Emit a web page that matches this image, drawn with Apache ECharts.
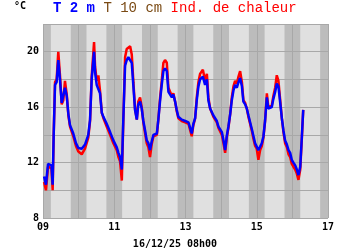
<!DOCTYPE html>
<html><head><meta charset="utf-8">
<script src="https://cdn.jsdelivr.net/npm/echarts@6/dist/echarts.min.js"></script>
<style>html,body{margin:0;padding:0;background:#fff}#c{width:350px;height:250px}</style>
</head><body><div id="c"></div>
<script>
// hours since 09/12 00h00
var hours = [0.7,2,3.4,4.7,5.7,6.5,7.2,8.1,9.2,10.3,
 11.5,12.6,13.7,14.8,16,17.1,18.2,19.3,20.4,22.2,
 23.8,26.1,28.3,30.5,31.7,32.8,33.9,34.4,35.1,36.2,
 37.3,38.4,39.6,40.7,42.9,45.2,47.4,49.7,50.8,51.9,
 53.1,54.1,55.3,56.4,57.5,58.7,59.8,60.9,62,63.2,
 64.2,65.4,66.5,67.6,68.8,69.9,71,72.1,73.2,74.4,
 76.7,77.7,78.9,80,81.1,82.2,83.4,84.5,85.6,86.8,
 87.8,89,90.1,91.2,93.5,95.8,98,99.1,100.2,101.3,
 102.5,103.6,104.7,105.8,107.7,109.2,110.4,111.4,112.6,114.8,
 117.1,118.2,120.5,121.6,122.7,123.8,124.9,126.1,127.2,128.3,
 129.4,130.6,131.7,132.8,134,135,136.2,137.3,138.4,139.6,
 140.7,141.8,142.9,144,145.1,146.3,147.4,148.5,149.6,150.8,
 151.8,153,154.1,155.2,156.4,157.5,158.6,159.8,160.9,162,
 163.1,164.3,165.4,166.5,167.6,168.7,169.9,171,172.1,173.3,
 174.4,175.3];
var t2m = [11.0,10.4,11.9,11.9,11.8,10.4,14.0,17.6,17.8,19.4,
 17.9,16.3,16.4,17.4,16.8,15.5,14.7,14.6,14.1,13.4,
 13.05,13.0,13.3,14.0,15.1,18.0,19.4,20.0,18.5,17.6,
 17.6,17.0,15.6,15.3,14.8,14.2,13.6,13.1,12.7,12.4,
 11.5,15.1,19.0,19.4,19.6,19.6,19.2,17.5,15.8,15.1,
 16.2,16.4,15.9,15.0,14.3,13.6,13.4,12.9,13.5,14.0,
 14.1,15.1,16.5,17.6,18.6,18.8,18.6,17.1,17.2,16.7,
 16.9,16.4,15.8,15.3,15.1,15.0,14.9,15.0,14.1,14.8,
 15.2,16.5,17.5,18.0,18.2,17.6,18.0,16.5,15.9,15.4,
 15.0,14.6,14.2,13.6,12.9,13.9,14.6,15.5,16.5,17.2,
 17.6,17.4,17.8,18.1,17.5,16.4,16.2,15.9,15.4,15.3,
 14.4,13.9,13.4,13.3,12.9,13.15,13.4,13.9,15.0,16.7,
 15.9,15.8,16.0,16.6,17.1,17.7,17.5,16.3,15.2,14.3,
 13.6,13.3,12.9,12.7,12.2,12.0,11.8,11.5,11.1,11.7,
 13.9,15.8];
var heatIndex = [10.6,10.0,11.7,11.8,11.6,10.0,14.0,17.8,18.0,20.0,
 18.2,16.2,16.5,17.9,16.9,15.4,14.6,14.5,13.9,13.2,
 12.8,12.6,13.0,13.8,15.0,18.2,19.9,20.7,18.9,17.9,
 18.3,17.2,15.6,15.2,14.6,14.0,13.4,12.9,12.4,12.1,
 10.7,15.0,19.6,20.2,20.3,20.4,19.8,17.8,15.9,15.1,
 16.4,16.7,16.0,14.9,14.1,13.4,13.1,12.4,13.3,13.9,
 14.0,15.1,16.7,17.9,19.2,19.4,19.2,17.4,17.4,16.8,
 17.0,16.4,15.7,15.2,15.0,14.9,14.8,14.9,13.9,14.7,
 15.2,16.7,17.8,18.4,18.7,17.9,18.4,16.7,15.9,15.3,
 14.9,14.5,14.0,13.4,12.7,13.8,14.5,15.5,16.7,17.5,
 17.9,17.7,18.2,18.6,17.8,16.5,16.3,15.9,15.3,15.2,
 14.3,13.7,13.2,13.0,12.2,12.9,13.2,13.8,15.0,17.0,
 16.0,15.9,16.1,16.8,17.4,18.3,17.9,16.5,15.2,14.2,
 13.4,13.1,12.6,12.4,11.9,11.7,11.5,11.2,10.75,11.5,
 13.8,15.8];
var nightBands = [[0,5.3],[18.7,29.3],[42.7,53.3],[66.7,77.3],[90.7,101.3],
 [114.7,125.3],[138.7,149.3],[162.7,173.3],[186.7,192]];
var xTickLabels = ['09','11','13','15','17'];
var yTickLabels = ['8','12','16','20'];
var legendNames = ['T 2 m','T 10 cm','Ind. de chaleur'];
var stamp = '16/12/25 08h00';

var chart = echarts.init(document.getElementById('c'), null, {renderer:'canvas'});
var mono = '"DejaVu Sans Mono", monospace';
var lmono = '"Liberation Mono", monospace';
chart.setOption({
  animation:false,
  backgroundColor:'#ffffff',
  title:{
    text:'{b|'+legendNames[0]+'} {o|'+legendNames[1]+'} {r|'+legendNames[2]+'}',
    left:53, top:0, padding:0,
    textStyle:{fontFamily:lmono, fontSize:14, fontWeight:'normal', lineHeight:16,
      rich:{
        b:{color:'#0000ff',fontFamily:lmono,fontSize:14,fontWeight:'bold'},
        o:{color:'#7a4a14',fontFamily:lmono,fontSize:14,fontWeight:'normal'},
        r:{color:'#ff0000',fontFamily:lmono,fontSize:14,fontWeight:'normal'}
      }}
  },
  graphic:[
    {type:'text', left:14, top:1, style:{text:'°C', fill:'#000', font:'bold 10px '+mono}},
    {type:'text', left:'center', top:239, style:{text:stamp, fill:'#000', font:'bold 10px '+mono}}
  ],
  grid:{left:43, right:22, top:24, bottom:32, show:true, backgroundColor:'#e0e0e0', borderWidth:0},
  xAxis:{type:'value', min:0, max:192, interval:24, z:2,
    axisLine:{show:false}, axisTick:{show:false},
    splitLine:{show:true, lineStyle:{color:'#a8a8a8', width:1}},
    axisLabel:{margin:4, color:'#000', fontFamily:mono, fontWeight:'bold', fontSize:10,
      formatter:function(v){ return (v%48===0) ? xTickLabels[v/48] : ''; }}
  },
  yAxis:{type:'value', min:8, max:22, interval:2, z:2,
    axisLine:{show:false}, axisTick:{show:false},
    splitLine:{show:true, lineStyle:{color:'#a8a8a8', width:1}},
    axisLabel:{margin:4, color:'#000', fontFamily:mono, fontWeight:'bold', fontSize:10,
      formatter:function(v){ return ((v-8)%4===0 && v<22) ? yTickLabels[(v-8)/4] : ''; }}
  },
  series:[
    {type:'line', name:'bands', data:[], silent:true,
      markArea:{silent:true, z:1, itemStyle:{color:'#bcbcbc'},
        data: nightBands.map(function(b){return [{xAxis:b[0]},{xAxis:b[1]}];})}},
    {type:'line', name:legendNames[2], z:3, symbol:'none', lineStyle:{color:'#ff0000', width:2.5},
      data: hours.map(function(h,i){return [h, heatIndex[i]];})},
    {type:'line', name:legendNames[0], z:4, symbol:'none', lineStyle:{color:'#0000ff', width:2.5},
      data: hours.map(function(h,i){return [h, t2m[i]];})}
  ]
});
</script></body></html>
